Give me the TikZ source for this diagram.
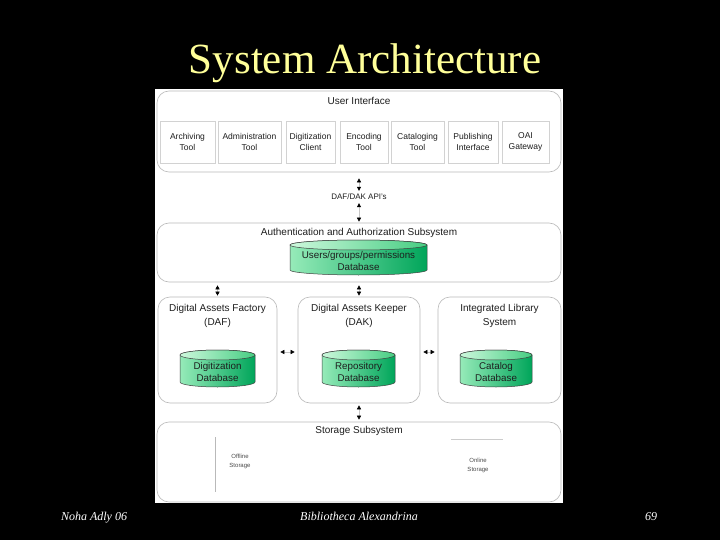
\documentclass[tikz,border=0pt]{standalone}
\usepackage{fontspec}
\setmainfont{Liberation Serif}
\setsansfont{Liberation Sans}
\usetikzlibrary{arrows.meta}
\definecolor{titleyellow}{RGB}{255,255,153}
\definecolor{dbL}{RGB}{150,235,185}
\definecolor{dbR}{RGB}{0,165,90}
\definecolor{dbT}{RGB}{205,248,220}
\definecolor{dbTR}{RGB}{70,205,130}
\definecolor{ink}{RGB}{30,30,30}
\newcommand\dbcyl[6]{%
  \shadedraw[left color=dbL, right color=dbR, draw=black!75, line width=0.5pt]
    ({#2-#4/2},{#3-#5/2+5}) -- ({#2-#4/2},{#3+#5/2-5})
    arc[start angle=180,end angle=0,x radius={#4/2},y radius=5]
    -- ({#2+#4/2},{#3-#5/2+5})
    arc[start angle=0,end angle=-180,x radius={#4/2},y radius=5] -- cycle;
  \shadedraw[left color=dbT, right color=dbTR, draw=black!75, line width=0.5pt]
    (#2,{#3-#5/2+5}) ellipse[x radius={#4/2},y radius=5];
  \node[dbtext] (#1) at (#2,{#3+3}) {#6};
}
\begin{document}
\begin{tikzpicture}[x=1pt,y=-1pt,
  group/.style={draw=gray!55, line width=0.6pt, rounded corners=12pt, inner sep=0pt},
  tool/.style={draw=gray!35, line width=0.5pt, minimum height=42pt, align=center,
    inner sep=0pt, text=ink, font=\sffamily\fontsize{8.5}{11}\selectfont},
  gtitle/.style={align=center, text=ink, inner sep=1pt, font=\sffamily\fontsize{10}{14}\selectfont},
  dbtext/.style={align=center, text=ink, inner sep=0pt, font=\sffamily\fontsize{9.8}{12}\selectfont},
  small/.style={align=center, text=ink!80, inner sep=0pt, font=\sffamily\fontsize{6}{9}\selectfont},
  foot/.style={text=white, inner sep=0pt, anchor=base, font=\itshape\fontsize{12}{12}\selectfont},
  darr/.style={draw=gray!45, line width=0.5pt,
    {Triangle[width=4pt,length=4pt,color=black]}-{Triangle[width=4pt,length=4pt,color=black]}}
]
\fill[black] (0,0) rectangle (720,540);
\useasboundingbox (0,0) rectangle (720,540);
\fill[white] (155,89) rectangle (563,503);

% title
\node[anchor=base, text=titleyellow, inner sep=0pt, font=\fontsize{43}{43}\selectfont] (title) at (365,74) {System Architecture};

% user interface
\node[group, minimum width=404pt, minimum height=81pt] (ui) at (359,131.5) {};
\node[gtitle] (uit) at (359,101) {User Interface};
\node[tool, minimum width=55pt] (t1) at (187.5,142) {Archiving\\Tool};
\node[tool, minimum width=63pt] (t2) at (249.5,142) {Administration\\Tool};
\node[tool, minimum width=49pt] (t3) at (310.5,142) {Digitization\\Client};
\node[tool, minimum width=48pt] (t4) at (364,142) {Encoding\\Tool};
\node[tool, minimum width=53pt] (t5) at (417.5,142) {Cataloging\\Tool};
\node[tool, minimum width=50pt] (t6) at (473,142) {Publishing\\Interface};
\node[tool, minimum width=47pt] (t7) at (525.5,142) {OAI\\Gateway};

% API label
\node[text=ink, inner sep=0pt, font=\sffamily\fontsize{8}{10}\selectfont] (api) at (359,197) {DAF/DAK API's};

% authentication
\node[group, minimum width=404pt, minimum height=59pt] (auth) at (359,252.5) {};
\node[gtitle] (autht) at (359,233) {Authentication and Authorization Subsystem};
\dbcyl{udb}{358.5}{257.5}{137}{35}{Users/groups/permissions\\Database}

% middle row
\node[group, minimum width=119pt, minimum height=106pt] (daf) at (217.5,350) {};
\node[gtitle] (daft) at (217.5,316) {Digital Assets Factory\\(DAF)};
\dbcyl{ddb}{217.5}{368.5}{75}{37}{Digitization\\Database}

\node[group, minimum width=122pt, minimum height=106pt] (dak) at (359,350) {};
\node[gtitle] (dakt) at (359,316) {Digital Assets Keeper\\(DAK)};
\dbcyl{rdb}{358.5}{368.5}{73}{37}{Repository\\Database}

\node[group, minimum width=123pt, minimum height=106pt] (ils) at (499.5,350) {};
\node[gtitle] (ilst) at (499.5,316) {Integrated Library\\System};
\dbcyl{cdb}{496}{368.5}{72}{37}{Catalog\\Database}

% storage
\node[group, minimum width=404pt, minimum height=80pt] (st) at (359,462) {};
\node[gtitle] (stt) at (359,431) {Storage Subsystem};
\draw[gray!55, line width=0.5pt] (215,437) -- (215,492);
\draw[gray!40, line width=0.5pt] (451,439) -- (503,439);
\node[small] (off) at (240,461) {Offline\\Storage};
\node[small] (on) at (478,465) {Online\\Storage};

% connectors
\draw[darr, shorten <=6pt, shorten >=3pt] (ui.south) -- (api.north);
\draw[darr, shorten <=3pt, shorten >=1pt] (api.south) -- (auth.north);
\draw[darr, shorten <=3pt, shorten >=1pt] (auth.south -| daf.north) -- (daf.north);
\draw[darr, shorten <=3pt, shorten >=1pt] (auth.south) -- (dak.north);
\draw[darr, shorten <=2pt, shorten >=2pt] (dak.south) -- (st.north);
\draw[darr, shorten <=3pt, shorten >=3pt] (daf.east |- 0,352) -- (dak.west |- 0,352);
\draw[darr, shorten <=3pt, shorten >=3pt] (dak.east |- 0,352) -- (ils.west |- 0,352);

% footer
\node[foot] (f1) at (94,520) {Noha Adly 06};
\node[foot] (f2) at (359,520) {Bibliotheca Alexandrina};
\node[foot] (f3) at (651,520) {69};
\end{tikzpicture}
\end{document}
